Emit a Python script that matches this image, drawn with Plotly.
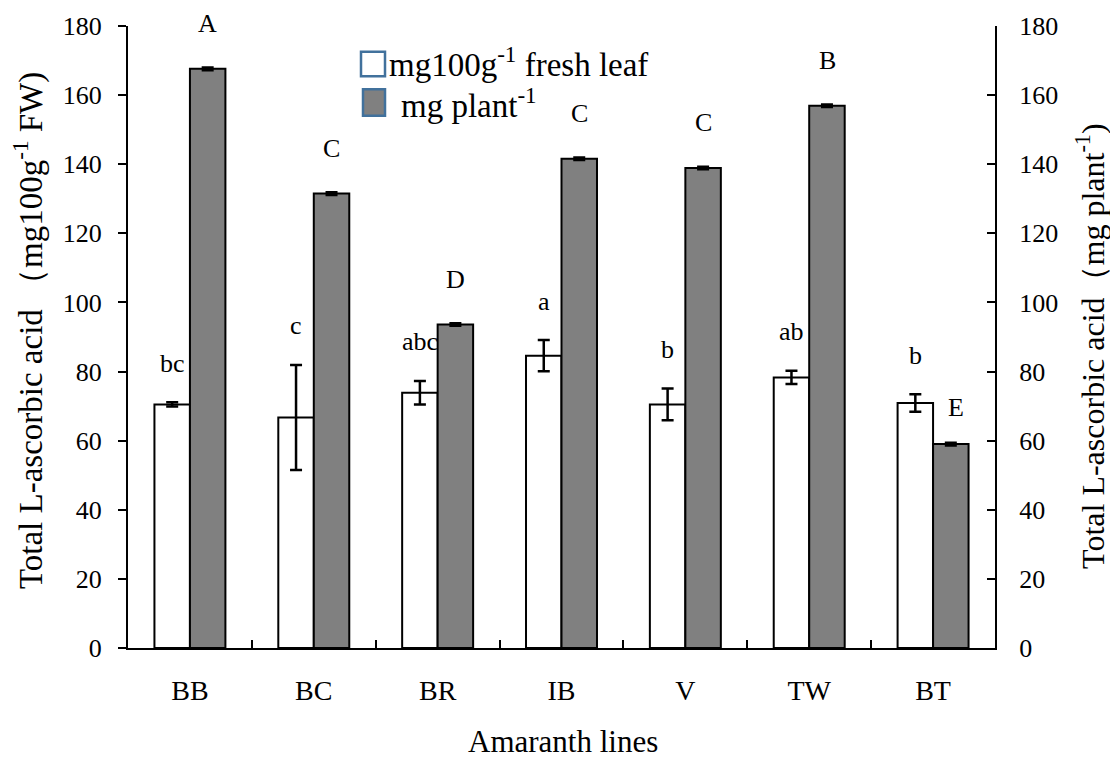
import plotly.graph_objects as go

# ---------------- data ----------------
lines = ["BB", "BC", "BR", "IB", "V", "TW", "BT"]
fresh_leaf = [70.5, 66.7, 73.9, 84.6, 70.5, 78.3, 70.9]       # mg 100g-1 FW
fresh_leaf_err = [0.6, 15.2, 3.4, 4.5, 4.6, 1.9, 2.5]
per_plant = [167.6, 131.5, 93.6, 141.6, 138.9, 156.9, 59.0]     # mg plant-1
per_plant_err = [0.3, 0.3, 0.3, 0.3, 0.3, 0.3, 0.3]
fresh_letters = ["bc", "c", "abc", "a", "b", "ab", "b"]
plant_letters = ["A", "C", "D", "C", "C", "B", "E"]

FONT = "Liberation Serif"

# plot area geometry (pixels) used to place legend / titles
W, H = 1110, 762
ML, MR, MT, MB = 128, 115, 18, 114
PW, PH = W - ML - MR, H - MT - MB


def px(xp):
    return (xp - ML) / PW


def py(yp):
    return (H - MB - yp) / PH


fig = go.Figure()
fig.add_trace(go.Bar(
    x=lines, y=fresh_leaf, name="mg100g-1 fresh leaf",
    marker=dict(color="white", line=dict(color="black", width=2)),
    error_y=dict(type="data", array=fresh_leaf_err, color="black", thickness=2.5, width=6),
    showlegend=False,
))
fig.add_trace(go.Bar(
    x=lines, y=per_plant, name="mg plant-1",
    marker=dict(color="#808080", line=dict(color="black", width=2)),
    error_y=dict(type="data", array=per_plant_err, color="black", thickness=3, width=6),
    showlegend=False,
))
# invisible trace so the right-hand axis is drawn
fig.add_trace(go.Scatter(
    x=lines, y=per_plant, yaxis="y2", mode="markers",
    marker=dict(opacity=0), hoverinfo="skip", showlegend=False,
))

annotations = []
for i, cat in enumerate(lines):
    annotations.append(dict(
        x=cat, y=fresh_leaf[i] + fresh_leaf_err[i], xref="x", yref="y",
        text=fresh_letters[i], showarrow=False, xshift=-17.8, yshift=39,
        xanchor="center", yanchor="middle",
        font=dict(family=FONT, size=26, color="black"),
    ))
    beside = plant_letters[i] == "E"
    annotations.append(dict(
        x=cat, y=per_plant[i] + per_plant_err[i], xref="x", yref="y",
        text=plant_letters[i], showarrow=False, xshift=17.8 + (5 if beside else 0),
        yshift=36 if beside else 44, xanchor="center", yanchor="middle",
        font=dict(family=FONT, size=26, color="black"),
    ))

# axis titles
annotations.append(dict(
    x=px(28), y=py(327), xref="paper", yref="paper", textangle=-90,
    text="Total L-ascorbic acid （mg100g<sup>-1</sup> FW)", showarrow=False,
    xanchor="center", yanchor="middle",
    font=dict(family=FONT, size=33, color="black"),
))
annotations.append(dict(
    x=px(1090), y=py(342), xref="paper", yref="paper", textangle=-90,
    text="Total L-ascorbic acid（mg plant<sup>-1</sup>)", showarrow=False,
    xanchor="center", yanchor="middle",
    font=dict(family=FONT, size=32, color="black"),
))
annotations.append(dict(
    x=px(563), y=py(743), xref="paper", yref="paper",
    text="Amaranth lines", showarrow=False, xanchor="center", yanchor="middle",
    font=dict(family=FONT, size=31, color="black"),
))

# manual legend
annotations.append(dict(
    x=px(388), y=py(54), xref="paper", yref="paper",
    text="mg100g<sup>-1</sup> fresh leaf", showarrow=False, xanchor="left", yanchor="middle",
    font=dict(family=FONT, size=33, color="black"), borderpad=0,
))
annotations.append(dict(
    x=px(400), y=py(96), xref="paper", yref="paper",
    text="mg plant<sup>-1</sup>", showarrow=False, xanchor="left", yanchor="middle",
    font=dict(family=FONT, size=33, color="black"), borderpad=0,
))
shapes = [
    dict(type="rect", xref="paper", yref="paper", x0=px(361), x1=px(385), y0=py(69), y1=py(44),
         fillcolor="white", line=dict(color="#41719C", width=2.5)),
    dict(type="rect", xref="paper", yref="paper", x0=px(363), x1=px(385), y0=py(109), y1=py(82),
         fillcolor="#808080", line=dict(color="#41719C", width=2.5)),
]

fig.update_layout(
    width=W, height=H,
    margin=dict(l=ML, r=MR, t=MT, b=MB),
    paper_bgcolor="white", plot_bgcolor="white",
    barmode="group", bargap=0.427, bargroupgap=0,
    font=dict(family=FONT, color="black"),
    xaxis=dict(
        showline=True, linecolor="black", linewidth=2,
        ticks="inside", tickson="boundaries", ticklen=8, tickwidth=1.5, tickcolor="black",
        tickfont=dict(family=FONT, size=28, color="black"),
        ticklabelstandoff=16, showgrid=False, zeroline=False,
    ),
    yaxis=dict(
        range=[0, 180], dtick=20, showline=True, linecolor="black", linewidth=2,
        ticks="outside", ticklen=8, tickwidth=1.5, tickcolor="black",
        tickfont=dict(family=FONT, size=26, color="black"),
        ticklabelstandoff=11, showgrid=False, zeroline=False,
    ),
    yaxis2=dict(
        range=[0, 180], dtick=20, overlaying="y", side="right",
        showline=True, linecolor="black", linewidth=2,
        ticks="inside", ticklen=8, tickwidth=1.5, tickcolor="black",
        tickfont=dict(family=FONT, size=26, color="black"),
        ticklabelstandoff=17, showgrid=False, zeroline=False,
    ),
    annotations=annotations,
    shapes=shapes,
)

fig.write_html("out.html")
